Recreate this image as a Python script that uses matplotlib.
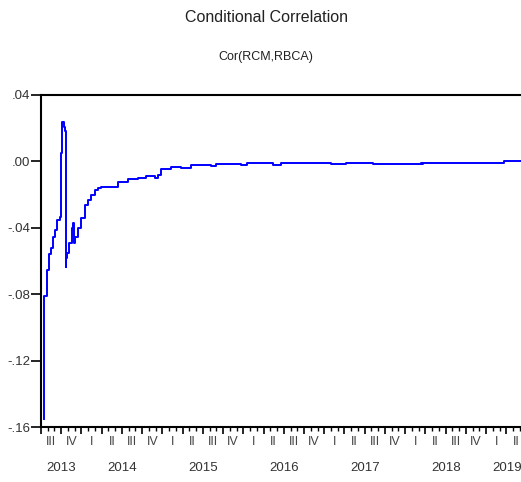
import numpy as np
import matplotlib.pyplot as plt

# conditional correlation (decimal years)
dates = [2013.531, 2013.536, 2013.580, 2013.596, 2013.621, 2013.651, 2013.670,
         2013.700, 2013.732, 2013.744, 2013.762, 2013.781, 2013.794, 2013.806,
         2013.812, 2013.819, 2013.840, 2013.877, 2013.898, 2013.910, 2013.926,
         2013.959, 2014.000, 2014.041, 2014.083, 2014.123, 2014.164, 2014.206,
         2014.247, 2014.370, 2014.453, 2014.577, 2014.700, 2014.802, 2014.905,
         2014.950, 2014.988, 2015.111, 2015.235, 2015.358, 2015.605, 2015.667,
         2015.975, 2016.050, 2016.370, 2016.469, 2017.086, 2017.272, 2017.600,
         2018.198, 2018.210, 2018.225, 2019.222, 2019.444]
cor = [-0.155, -0.081, -0.0654, -0.0557, -0.0521, -0.0453, -0.0413,
       -0.0353, -0.0333, 0.005, 0.024, 0.021, 0.018, -0.0634,
       -0.058, -0.0551, -0.049, -0.040, -0.037, -0.049, -0.0453,
       -0.040, -0.034, -0.0262, -0.0232, -0.0202, -0.0172, -0.0162,
       -0.0156, -0.0152, -0.0122, -0.0108, -0.0098, -0.0088, -0.0102,
       -0.0082, -0.0048, -0.0032, -0.0038, -0.0021, -0.0026, -0.0017,
       -0.0024, -0.0011, -0.0020, -0.0008, -0.0018, -0.0008, -0.0013,
       -0.0011, -0.0016, -0.0011, 0.0003, 0.0003]

yticks = [0.04, 0.00, -0.04, -0.08, -0.12, -0.16]
ylabels = [".04", ".00", "-.04", "-.08", "-.12", "-.16"]
years = [2013, 2014, 2015, 2016, 2017, 2018, 2019]
quarters = ["I", "II", "III", "IV"]

plt.rcParams['font.family'] = ['Liberation Sans', 'DejaVu Sans']

fig = plt.figure(figsize=(5.21, 4.82), dpi=100)
ax = fig.add_axes([0.0787, 0.114, 0.932, 0.689])
ax.plot(dates, cor, color="#0000ff", lw=1.4, drawstyle="steps-post")

x0, x1 = 2013.506, 2019.5
ax.set_xlim(x0, x1)
ax.set_ylim(-0.16, 0.04)

ax.set_yticks(yticks)
ax.set_yticklabels(ylabels, fontsize=9.5, color="#333333")
ax.tick_params(axis="y", direction="out", length=7, width=1.2, pad=0.5)

# quarter ticks (long) and monthly ticks (short)
qt = np.arange(2013.5, 2019.51, 0.25)
mt = np.arange(2013.5, 2019.51, 1 / 12)
ax.set_xticks(qt)
ax.set_xticks(mt, minor=True)
ax.set_xticklabels([])
ax.tick_params(axis="x", which="major", direction="out", length=5, width=1.2)
ax.tick_params(axis="x", which="minor", direction="out", length=3, width=1.0)

tr = ax.get_xaxis_transform()
for y in years:
    for i, q in enumerate(quarters):
        c = y + 0.125 + 0.25 * i
        if c < 2013.6 or c > x1:
            continue
        ax.text(c, -0.045, q, transform=tr, ha="center", va="center",
                fontsize=9, color="#444444")
    lo, hi = max(y, x0), min(y + 1, 2019.44)
    ax.text((lo + hi) / 2 + (0.04 if y == 2019 else 0), -0.122, str(y),
            transform=tr, ha="center", va="center", fontsize=9.5, color="#333333")

for s in ["left", "top", "bottom"]:
    ax.spines[s].set_linewidth(1.5)
ax.spines["right"].set_visible(False)

fig.text(0.511, 0.963, "Conditional Correlation", ha="center", va="center",
         fontsize=11.5, color="#222222")
fig.text(0.511, 0.882, "Cor(RCM,RBCA)", ha="center", va="center",
         fontsize=9, color="#222222")

fig.savefig("out.png", dpi=100)
